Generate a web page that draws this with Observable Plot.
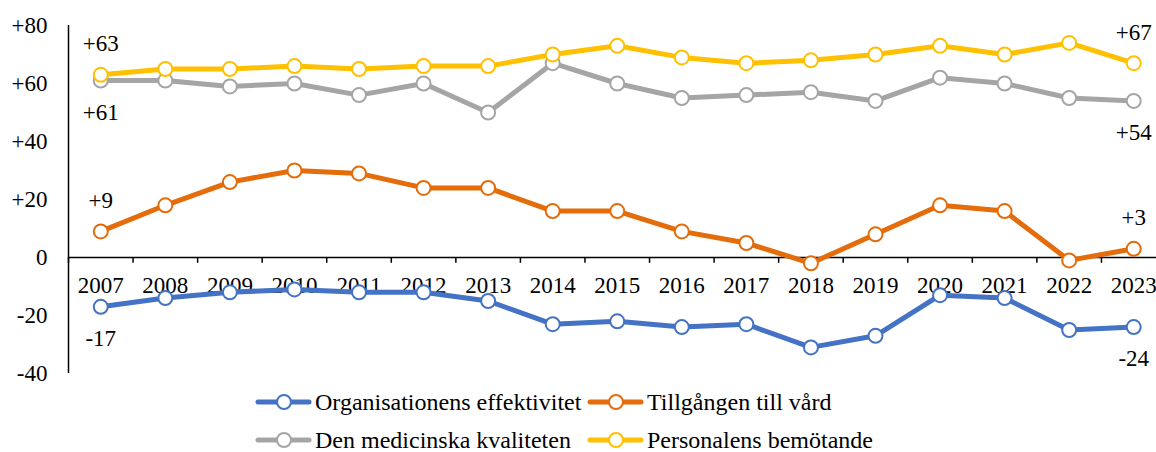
<!DOCTYPE html>
<html>
<head>
<meta charset="utf-8">
<script src="https://cdn.jsdelivr.net/npm/d3@7"></script>
<script src="https://cdn.jsdelivr.net/npm/@observablehq/plot@0.6"></script>
<style>
  body { margin: 0; background: #fff; font-family: "Liberation Serif", "Times New Roman", serif; }
  #wrap { position: relative; width: 1156px; height: 452px; overflow: hidden; }
  #chart { position: absolute; left: 0; top: 0; }
  .legend-row { position: absolute; left: 255px; height: 30px; display: flex; align-items: center; font-size: 24px; line-height: 24px; color: #000; font-family: "Liberation Serif", "Times New Roman", serif; white-space: nowrap; }
  .legend-item { display: flex; align-items: center; white-space: nowrap; }
  .legend-item svg { margin-right: 3px; flex: none; }
</style>
</head>
<body>
<div id="wrap">
  <div id="chart"></div>
  <div id="legend"></div>
</div>
<script>
const years = [2007, 2008, 2009, 2010, 2011, 2012, 2013, 2014, 2015, 2016, 2017, 2018, 2019, 2020, 2021, 2022, 2023];
const effektivitet = [-17, -14, -12, -11, -12, -12, -15, -23, -22, -24, -23, -31, -27, -13, -14, -25, -24];
const tillgang = [9, 18, 26, 30, 29, 24, 24, 16, 16, 9, 5, -2, 8, 18, 16, -1, 3];
const kvalitet = [61, 61, 59, 60, 56, 60, 50, 67, 60, 55, 56, 57, 54, 62, 60, 55, 54];
const bemotande = [63, 65, 65, 66, 65, 66, 66, 70, 73, 69, 67, 68, 70, 73, 70, 74, 67];
const seriesNames = ["Organisationens effektivitet", "Tillgången till vård", "Den medicinska kvaliteten", "Personalens bemötande"];
const yTicks = [-40, -20, 0, 20, 40, 60, 80];

const colors = ["#4472C4", "#E46C0A", "#A5A5A5", "#FFC000"];
const labelAbove = [false, true, false, true];
const seriesValues = [effektivitet, tillgang, kvalitet, bemotande];

const rows = [];
seriesValues.forEach((vals, s) => {
  vals.forEach((v, i) => rows.push({series: seriesNames[s], year: years[i], value: v}));
});

const fmt = d => d > 0 ? "+" + d : String(d);

const endLabels = [];
seriesValues.forEach((vals, s) => {
  [0, vals.length - 1].forEach(i => endLabels.push({series: seriesNames[s], year: years[i], value: vals[i], above: labelAbove[s]}));
});

const bounds = [years[0] - 0.5, ...years.map(y => y + 0.5)];
const fontFamily = '"Liberation Serif", "Times New Roman", serif';
const fs = 23;

const plot = Plot.plot({
  width: 1156,
  height: 380,
  marginLeft: 68,
  marginRight: 0,
  marginTop: 25,
  marginBottom: 7,
  style: {fontFamily, fontSize: fs + "px", color: "#000", background: "#fff", overflow: "visible"},
  x: {type: "linear", domain: [years[0] - 0.5, years[years.length - 1] + 0.5], range: [68, 1165.5], axis: null},
  y: {domain: [-40, 80], range: [373, 25], axis: null},
  color: {domain: seriesNames, range: colors},
  marks: [
    Plot.axisY(yTicks, {anchor: "left", label: null, tickSize: 0, tickPadding: 21, tickFormat: fmt, fontSize: fs, fontFamily, fill: "#000"}),
    Plot.ruleX([years[0] - 0.5], {y1: -40, y2: 80, stroke: "#000", strokeWidth: 1.5}),
    Plot.ruleY([0], {x1: bounds[0], x2: bounds[bounds.length - 1], stroke: "#000", strokeWidth: 1.5}),
    Plot.ruleX(bounds, {x: d => d, y1: 0, y2: -2, stroke: "#000", strokeWidth: 1.5}),
    Plot.text(years, {x: d => d, y: 0, dy: 28, text: d => String(d), fontSize: fs, fontFamily, fill: "#000"}),
    Plot.line(rows, {x: "year", y: "value", z: "series", stroke: "series", strokeWidth: 5, strokeLinejoin: "round", strokeLinecap: "round"}),
    Plot.dot(rows, {x: "year", y: "value", stroke: "series", fill: "#fff", r: 7, strokeWidth: 2}),
    Plot.text(endLabels.filter(d => d.above), {x: "year", y: "value", dy: -31, text: d => fmt(d.value), fontSize: fs, fontFamily, fill: "#000"}),
    Plot.text(endLabels.filter(d => !d.above), {x: "year", y: "value", dy: 32, text: d => fmt(d.value), fontSize: fs, fontFamily, fill: "#000"})
  ]
});
document.getElementById("chart").appendChild(plot);

// Legend
const legend = document.getElementById("legend");
const layout = [[0, 1], [2, 3]];
const rowTops = [387, 425];
layout.forEach((pair, r) => {
  const row = document.createElement("div");
  row.className = "legend-row";
  row.style.top = rowTops[r] + "px";
  pair.forEach((s, c) => {
    const item = document.createElement("div");
    item.className = "legend-item";
    if (c === 0) item.style.width = "332px";
    item.innerHTML = `<svg width="57" height="20"><line x1="3" y1="10" x2="54" y2="10" stroke="${colors[s]}" stroke-width="5" stroke-linecap="round"/><circle cx="29" cy="10" r="7" fill="#fff" stroke="${colors[s]}" stroke-width="2"/></svg><span>${seriesNames[s]}</span>`;
    row.appendChild(item);
  });
  legend.appendChild(row);
});
</script>
</body>
</html>
